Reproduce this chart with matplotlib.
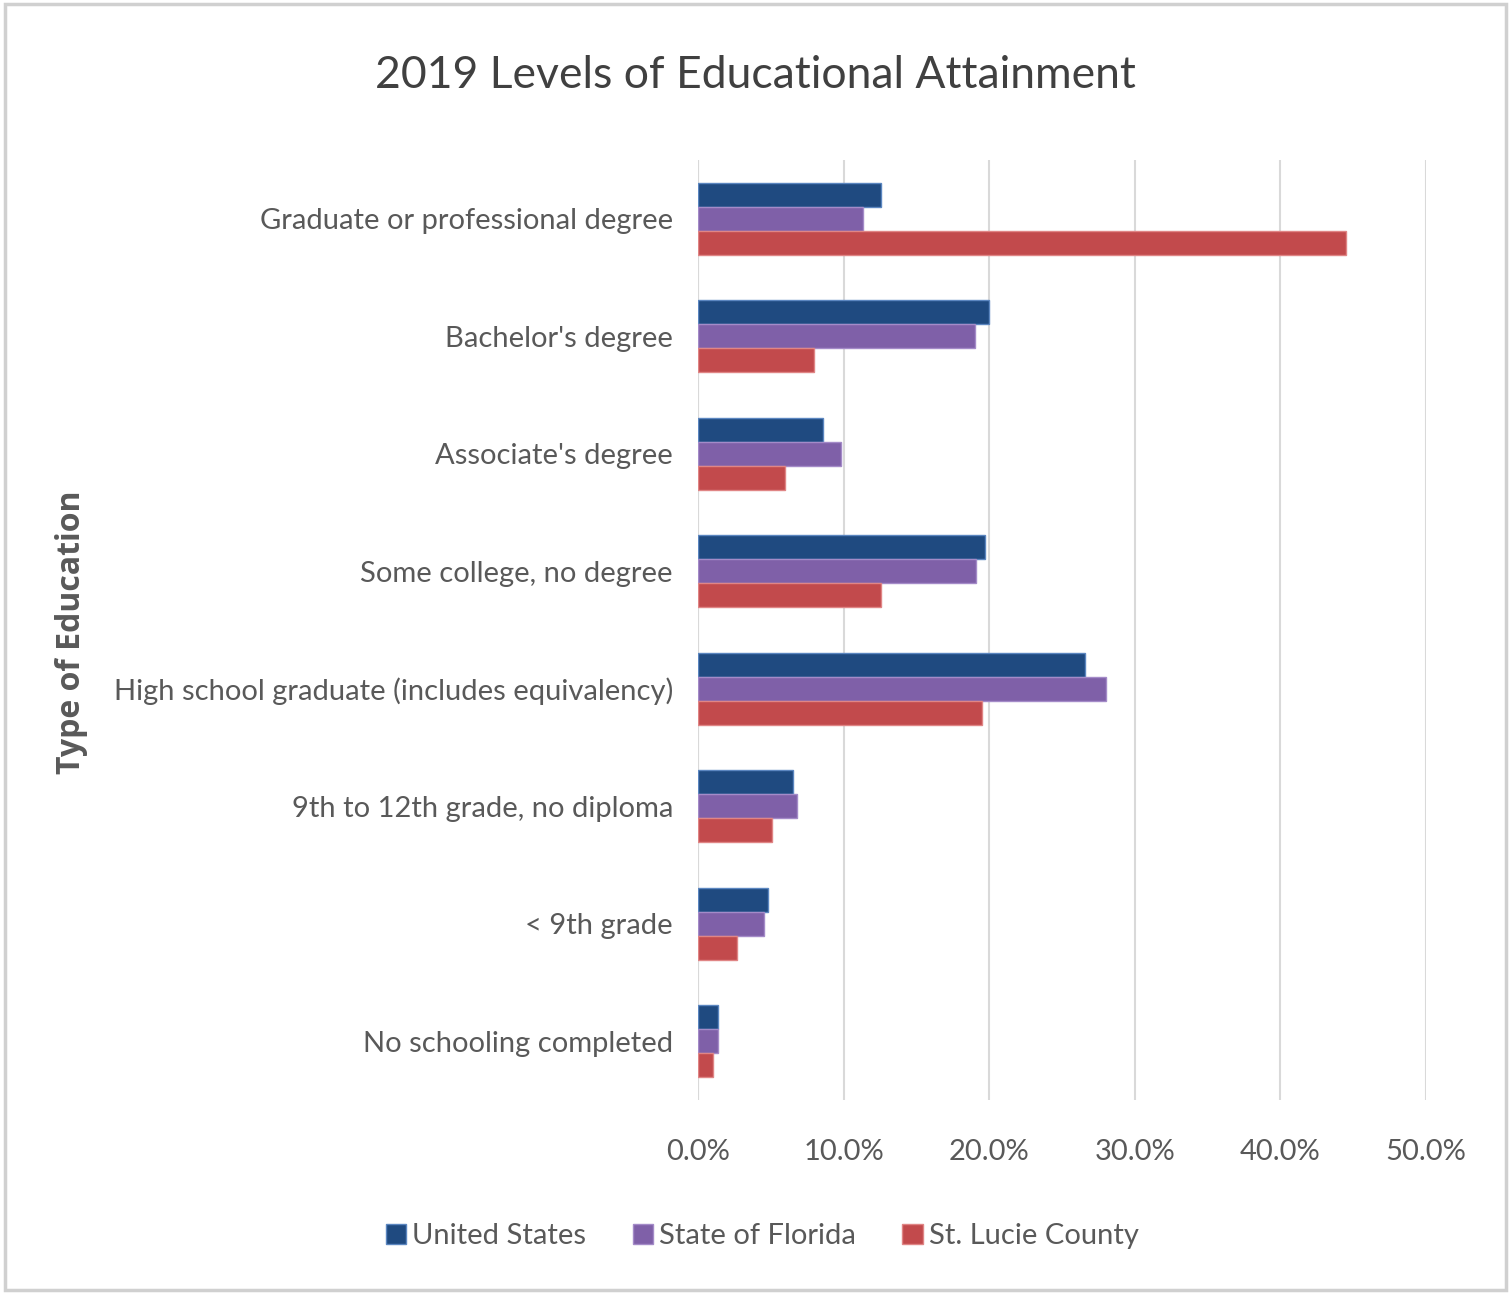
import matplotlib
matplotlib.use("Agg")
import matplotlib.pyplot as plt
import numpy as np
from matplotlib.patches import Rectangle

categories = [
    "Graduate or professional degree",
    "Bachelor's degree",
    "Associate's degree",
    "Some college, no degree",
    "High school graduate (includes equivalency)",
    "9th to 12th grade, no diploma",
    "< 9th grade",
    "No schooling completed",
]
series_names = ["United States", "State of Florida", "St. Lucie County"]
us = [12.6, 20.0, 8.6, 19.7, 26.6, 6.5, 4.8, 1.4]
fl = [11.3, 19.0, 9.8, 19.1, 28.0, 6.8, 4.5, 1.4]
slc = [44.5, 8.0, 6.0, 12.6, 19.5, 5.1, 2.7, 1.0]
xticks = [0, 10, 20, 30, 40, 50]
xtick_labels = ["0.0%", "10.0%", "20.0%", "30.0%", "40.0%", "50.0%"]

colors = ["#1F4A80", "#7F60A8", "#C24A4C"]
edges = ["#5B86C0", "#A48BC8", "#E08585"]
txt = "#595959"

plt.rcParams['font.family'] = ['Lato', 'DejaVu Sans']

fig = plt.figure(figsize=(15.11, 12.94), dpi=100)
fig.patches.append(Rectangle((0.003, 0.003), 0.994, 0.994, transform=fig.transFigure,
                             fill=False, edgecolor="#d0d0d0", linewidth=2.5))
ax = fig.add_axes([698 / 1511, 1 - 1100 / 1294, (1426 - 698) / 1511, (1100 - 160) / 1294])

y = np.arange(len(categories))
h = 0.205
for i, (vals, name) in enumerate(zip([us, fl, slc], series_names)):
    ax.barh(y + (i - 1) * h, vals, height=h, color=colors[i], edgecolor=edges[i],
            linewidth=1.0, label=name, zorder=3)

ax.set_ylim(len(categories) - 0.5, -0.5)
ax.set_xlim(0, 50)
ax.set_xticks(xticks)
ax.set_xticklabels(xtick_labels, fontsize=21, color=txt)
ax.set_yticks(y)
ax.set_yticklabels(categories, fontsize=21, color=txt)
ax.tick_params(axis='both', length=0)
ax.tick_params(axis='x', pad=28)
ax.tick_params(axis='y', pad=30)
for lbl in ax.get_yticklabels():
    lbl.set_x(-0.0)
ax.tick_params(axis='y', pad=18)
ax.grid(axis='x', color="#d9d9d9", linewidth=1.5, zorder=0)
for s in ax.spines.values():
    s.set_visible(False)
ax.axvline(0, color="#d9d9d9", linewidth=1.5, zorder=1)

fig.text(0.5, 1 - 75 / 1294, "2019 Levels of Educational Attainment", ha='center', va='center',
         fontsize=32, color="#404040")
fig.text(72 / 1511, 1 - 632 / 1294, "Type of Education", rotation=90, ha='center', va='center',
         fontsize=23, fontweight='bold', color=txt, family=['Open Sans', 'DejaVu Sans'])

leg = fig.legend(loc='center', bbox_to_anchor=(762 / 1511, 1 - 1236 / 1294), ncol=3, frameon=False,
                 fontsize=21, handlelength=0.7, handleheight=0.7, handletextpad=0.2, columnspacing=1.6)
for t in leg.get_texts():
    t.set_color(txt)

fig.savefig("out.png", dpi=100, facecolor="white")
